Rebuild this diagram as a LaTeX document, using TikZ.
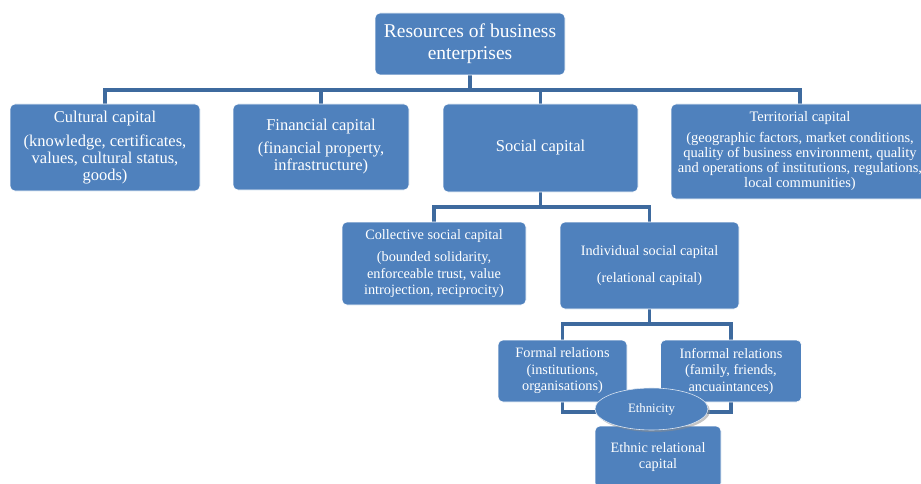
\documentclass[tikz,border=0pt]{standalone}
\usepackage{fontspec}
\setmainfont{Liberation Serif}
\usetikzlibrary{
  shapes.geometric,
  shadows,
  backgrounds
}
\definecolor{boxblue}{RGB}{79,129,189}
\definecolor{lineblue}{RGB}{62,106,158}

\begin{document}
\begin{tikzpicture}[
  x=1pt,
  y=-1pt,
  box/.style={
    draw=white,
    line width=0.6pt,
    fill=boxblue,
    rounded corners=5pt,
    text=white,
    align=center,
    inner sep=0pt,
  },
  big/.style={
    font={\fontsize{16.5}{17}\selectfont}
  },
  small/.style={
    font={\fontsize{14.3}{16.5}\selectfont}
  },
  tiny/.style={
    font={\fontsize{14.5}{15}\selectfont}
  },
  oval/.style={
    ellipse,
    draw=white!80!boxblue,
    line width=0.6pt,
    fill=boxblue,
    text=white,
    inner sep=0pt,
    minimum width=113pt,
    minimum height=42pt,
    font={\fontsize{12.8}{14}\selectfont},
    drop shadow={shadow xshift=2pt,shadow yshift=-2pt,fill=black!45}
  },
  conn/.style={
    draw=lineblue,
    line width=3.6pt
  }
]
\useasboundingbox (0,0) rectangle (921,484);

% Top
\node[box,minimum width=190pt,minimum height=62pt,font={\fontsize{19.5}{22}\selectfont}] (top) at (470,44)
  {Resources of business\\enterprises};

% Level 1
\node[box,big,minimum width=190pt,minimum height=87pt] (cultural) at (105,147.5)
  {Cultural capital\\[7pt](knowledge, certificates,\\values, cultural status,\\goods)};
\node[box,big,minimum width=176pt,minimum height=86pt] (financial) at (321,147)
  {Financial capital\\[6pt](financial property,\\infrastructure)};
\node[box,big,minimum width=195pt,minimum height=88pt] (social) at (540.5,148)
  {Social capital};
\node[box,tiny,minimum width=258pt,minimum height=95pt] (territorial) at (800,151.5)
  {Territorial capital\\[6pt](geographic factors, market conditions,\\quality of business environment, quality\\and operations of institutions, regulations,\\local communities)};

% Level 2
\node[box,small,minimum width=184pt,minimum height=83pt] (collective) at (434,263.5)
  {Collective social capital\\[6pt](bounded solidarity,\\enforceable trust, value\\introjection, reciprocity)};
\node[box,small,minimum width=179pt,minimum height=87pt] (individual) at (649.5,265.5)
  {Individual social capital\\[10pt](relational capital)};

% Level 3
\node[box,small,minimum width=129pt,minimum height=62pt] (formal) at (562.5,371)
  {Formal relations\\(institutions,\\organisations)};
\node[box,small,minimum width=141pt,minimum height=62pt] (informal) at (731,371)
  {Informal relations\\(family, friends,\\ancuaintances)};
\node[box,small,minimum width=126pt,minimum height=62pt] (ethnic) at (658,457)
  {Ethnic relational\\capital};
\node[oval] (ethnicity) at (651.5,409) {Ethnicity};

% Connectors
\coordinate (bus1) at (470,90);
\coordinate (bus2) at (540.5,207);
\coordinate (bus3) at (649.5,324);
\coordinate (bus4) at (649.5,412);
\begin{scope}[on background layer]
\draw[conn] (top.south) -- (bus1);
\foreach \n in {cultural,financial,social,territorial} {
  \draw[conn] (bus1) -| (\n.north);
}
\draw[conn] (social.south) -- (bus2);
\foreach \n in {collective,individual} {
  \draw[conn] (bus2) -| (\n.north);
}
\draw[conn] (individual.south) -- (bus3);
\foreach \n in {formal,informal} {
  \draw[conn] (bus3) -| (\n.north);
  \draw[conn] (bus4) -| (\n.south);
}
\end{scope}

\end{tikzpicture}
\end{document}
